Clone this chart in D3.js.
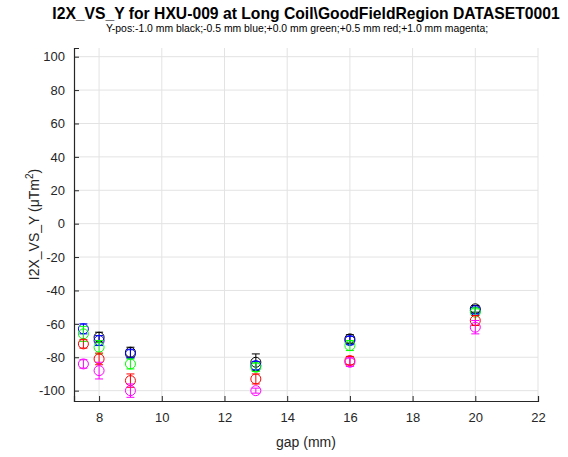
<!DOCTYPE html>
<html><head><meta charset="utf-8">
<script src="https://cdn.jsdelivr.net/npm/d3@7"></script>
<style>body{margin:0;background:#fff}svg{display:block}text{font-family:Arial,"Liberation Sans",sans-serif}</style>
</head><body>
<svg id="c" width="568" height="457"></svg>
<script>
const gap = [7.5, 8, 9, 13, 16, 20];
const seriesNames = ["black", "blue", "green", "red", "magenta"];
const colors = ["#000000", "#0000ff", "#00ff00", "#ff0000", "#ff00ff"];
const blackVals = [null, -68, -77, -83, -69, -51];
const blueVals = [-63, -70, -78, -85, -70, -52];
const greenVals = [-66, -74, -84, -86, -73, -53];
const redVals = [-72, -81, -94, -93, -82, -58];
const magentaVals = [-84, -88, -100, -100, -83, -62];
const blackErr = [3, 3, 3, 5, 2.5, 2];
const blueErr = [3, 3, 2.5, 2.5, 2.5, 2];
const greenErr = [4.5, 4, 3, 2.5, 3, 2];
const redErr = [2.5, 3.5, 4, 3, 2.5, 3];
const magentaErr = [2.5, 5, 4, 1.5, 2.5, 4];
const xTicks = [8, 10, 12, 14, 16, 18, 20, 22];
const yTicks = [-100, -80, -60, -40, -20, 0, 20, 40, 60, 80, 100];

const vals = [blackVals, blueVals, greenVals, redVals, magentaVals];
const errs = [blackErr, blueErr, greenErr, redErr, magentaErr];

const L = 74, R = 538, T = 48, B = 401;
const x = d3.scaleLinear().domain([7.2, 22]).range([L, R]);
const y = d3.scaleLinear().domain([-106.2, 105.2]).range([B, T]);
const svg = d3.select("#c");
const fmt = d => String(d);

// grid
svg.append("g").selectAll("line").data(xTicks).join("line")
  .attr("x1", d => x(d)).attr("x2", d => x(d)).attr("y1", T).attr("y2", B)
  .attr("stroke", "#e3e3e3").attr("stroke-width", 1);
svg.append("g").selectAll("line").data(yTicks).join("line")
  .attr("x1", L).attr("x2", R).attr("y1", d => y(d)).attr("y2", d => y(d))
  .attr("stroke", "#e3e3e3").attr("stroke-width", 1);

// axes
const xAxis = d3.axisBottom(x).tickValues(xTicks).tickSize(-5).tickPadding(12).tickFormat(fmt);
const yAxis = d3.axisLeft(y).tickValues(yTicks).tickSize(-5).tickPadding(9).tickFormat(fmt);
const gx = svg.append("g").attr("transform", `translate(0,${B})`).call(xAxis);
const gy = svg.append("g").attr("transform", `translate(${L},0)`).call(yAxis);
[gx, gy].forEach(g => {
  g.select(".domain").attr("stroke", "#262626").attr("stroke-width", 1.2);
  g.selectAll(".tick line").attr("stroke", "#262626");
  g.selectAll(".tick text").attr("fill", "#262626").style("font-size", "13px");
});

// data
const cap = 4;
vals.forEach((vs, si) => {
  const g = svg.append("g");
  const c = colors[si];
  const data = gap.map((gv, i) => ({g: gv, v: vs[i], e: errs[si][i]})).filter(d => d.v != null);
  g.selectAll(".eb").data(data).join("line")
    .attr("x1", d => x(d.g)).attr("x2", d => x(d.g))
    .attr("y1", d => y(d.v - d.e)).attr("y2", d => y(d.v + d.e))
    .attr("stroke", c).attr("stroke-width", 1);
  g.selectAll(".ct").data(data).join("line")
    .attr("x1", d => x(d.g) - cap).attr("x2", d => x(d.g) + cap)
    .attr("y1", d => y(d.v + d.e)).attr("y2", d => y(d.v + d.e))
    .attr("stroke", c).attr("stroke-width", 1);
  g.selectAll(".cb").data(data).join("line")
    .attr("x1", d => x(d.g) - cap).attr("x2", d => x(d.g) + cap)
    .attr("y1", d => y(d.v - d.e)).attr("y2", d => y(d.v - d.e))
    .attr("stroke", c).attr("stroke-width", 1);
  g.selectAll("circle").data(data).join("circle")
    .attr("cx", d => x(d.g)).attr("cy", d => y(d.v)).attr("r", 5)
    .attr("fill", "none").attr("stroke", c).attr("stroke-width", 1);
});

// titles
svg.append("text").attr("x", 306).attr("y", 19).attr("text-anchor", "middle")
  .style("font-size", "15.7px").style("font-weight", "bold").attr("fill", "#000")
  .text("I2X_VS_Y for HXU-009 at Long Coil\\GoodFieldRegion DATASET0001");
svg.append("text").attr("x", 297).attr("y", 32).attr("text-anchor", "middle")
  .style("font-size", "10.4px").attr("fill", "#000")
  .text("Y-pos:-1.0 mm black;-0.5 mm blue;+0.0 mm green;+0.5 mm red;+1.0 mm magenta;");
svg.append("text").attr("x", 306).attr("y", 447).attr("text-anchor", "middle")
  .style("font-size", "14px").attr("fill", "#262626").text("gap (mm)");
const yl = svg.append("text").attr("transform", `translate(39,${(T + B) / 2}) rotate(-90)`)
  .attr("text-anchor", "middle").style("font-size", "14px").attr("fill", "#262626");
yl.append("tspan").text("I2X_VS_Y (μTm");
yl.append("tspan").attr("dy", -6).style("font-size", "10px").text("2");
yl.append("tspan").attr("dy", 6).text(")");
</script>
</body></html>
